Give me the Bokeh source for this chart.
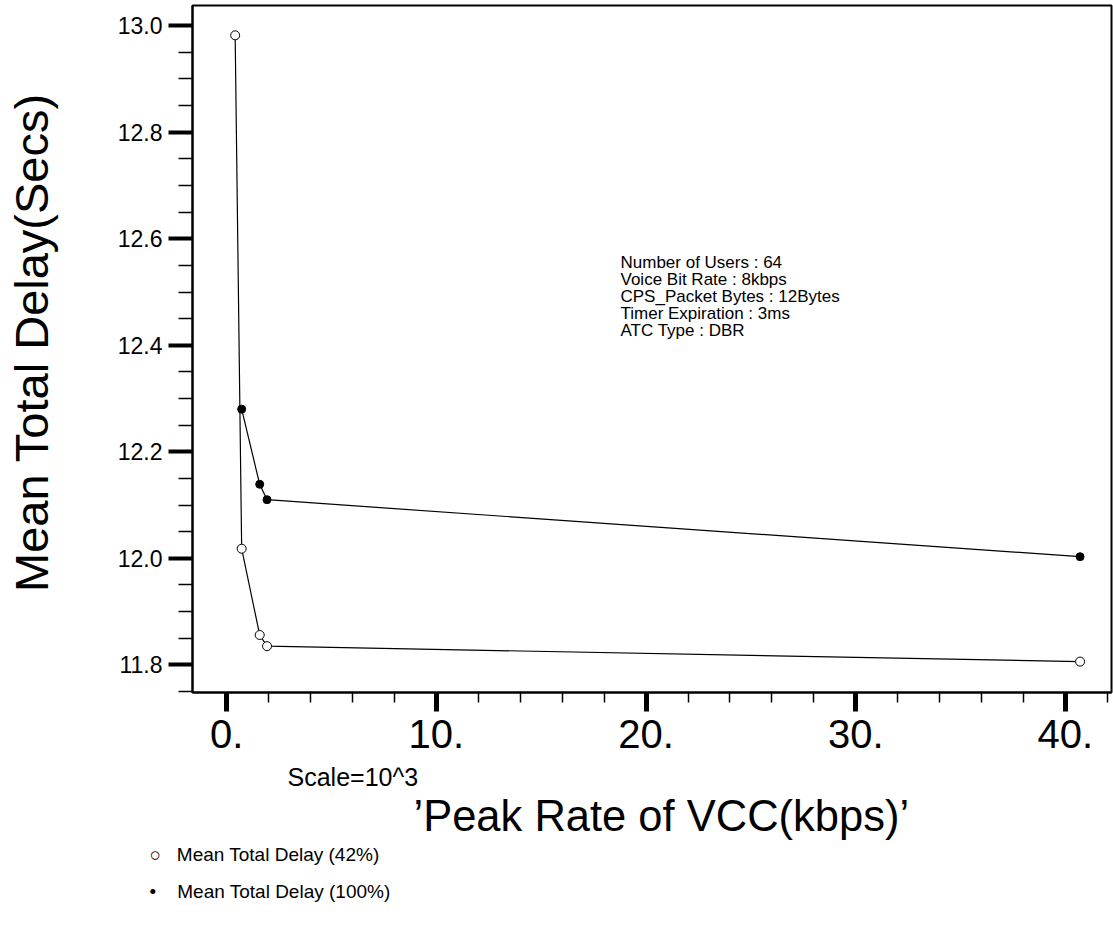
from bokeh.plotting import figure
from bokeh.models import Range1d, FixedTicker, Title
from bokeh.embed import file_html
from bokeh.resources import INLINE

# ---- data ----
rate_42 = [0.40, 0.71, 1.57, 1.92, 40.70]
delay_42 = [12.982, 12.018, 11.856, 11.835, 11.806]
rate_100 = [0.71, 1.57, 1.92, 40.70]
delay_100 = [12.280, 12.139, 12.110, 12.003]

x_ticks = [0, 10, 20, 30, 40]
x_tick_labels = ["0.", "10.", "20.", "30.", "40."]
y_ticks = [11.8, 12.0, 12.2, 12.4, 12.6, 12.8, 13.0]
y_tick_labels = ["11.8", "12.0", "12.2", "12.4", "12.6", "12.8", "13.0"]

info_lines = [
    "Number of Users : 64",
    "Voice Bit Rate : 8kbps",
    "CPS_Packet Bytes : 12Bytes",
    "Timer Expiration : 3ms",
    "ATC Type : DBR",
]
legend_labels = ["Mean Total Delay (42%)", "Mean Total Delay (100%)"]
legend_marks = ["\u25cb", "\u2022"]

FONT = "Liberation Sans"
NB = "\u00a0"

# ---- geometry (page pixels; the canvas starts at the page corner) ----
W, H = 1113, 930
FL, FR, FT, FB = 192.0, 1111.0, 5.0, 692.0
X0, X1 = -1.635, 42.2
Y0, Y1 = 11.748, 13.038

p = figure(width=W, height=H, output_backend="svg", toolbar_location=None,
           title=None,
           x_range=Range1d(X0, X1), y_range=Range1d(Y0, Y1),
           min_border_left=int(FL), min_border_right=int(W - FR),
           min_border_top=int(FT), min_border_bottom=int(H - FB))
p.grid.visible = False
p.outline_line_color = "black"
p.outline_line_width = 2
p.background_fill_color = "white"
p.border_fill_color = "white"

# x axis
xa = p.xaxis[0]
xa.ticker = FixedTicker(ticks=x_ticks, minor_ticks=[v for v in range(0, 43, 2)])
xa.major_label_overrides = {t: s for t, s in zip(x_ticks, x_tick_labels)}
xa.axis_line_width = 2
xa.major_tick_in = 0
xa.major_tick_out = 19
xa.major_tick_line_width = 5
xa.minor_tick_in = 0
xa.minor_tick_out = 10
xa.minor_tick_line_width = 1.5
xa.major_label_text_font = FONT
xa.major_label_text_font_size = "40px"
xa.major_label_text_color = "black"
xa.major_label_standoff = 8

# y axis
ya = p.yaxis[0]
ya.ticker = FixedTicker(ticks=y_ticks,
                        minor_ticks=[round(11.75 + 0.05 * i, 2) for i in range(26)])
ya.major_label_overrides = {t: s for t, s in zip(y_ticks, y_tick_labels)}
ya.axis_line_width = 2
ya.major_tick_in = 0
ya.major_tick_out = 24
ya.major_tick_line_width = 4
ya.minor_tick_in = 0
ya.minor_tick_out = 14
ya.minor_tick_line_width = 1.5
ya.major_label_text_font = FONT
ya.major_label_text_font_size = "23px"
ya.major_label_text_color = "black"
ya.major_label_standoff = 6
ya.axis_label = NB + "Mean Total Delay(Secs)"
ya.axis_label_text_font = FONT
ya.axis_label_text_font_size = "47px"
ya.axis_label_text_font_style = "normal"
ya.axis_label_text_color = "black"
ya.axis_label_standoff = 57

# series
p.line(rate_42, delay_42, line_color="black", line_width=1.2)
p.scatter(rate_42, delay_42, marker="circle", size=9, fill_color="white",
          line_color="black", line_width=1)
p.line(rate_100, delay_100, line_color="black", line_width=1.2)
p.scatter(rate_100, delay_100, marker="circle", size=8, fill_color="black",
          line_color="black")

# info text block (inside the frame)
info_x = [X0 + (620 - FL) / (FR - FL) * (X1 - X0)] * len(info_lines)
info_y = [Y1 - (262 + 17 * i - FT) / (FB - FT) * (Y1 - Y0) for i in range(len(info_lines))]
p.text(x=info_x, y=info_y, text=info_lines, text_align="left",
       text_baseline="middle", text_font={"value": FONT},
       text_font_size="17px", text_color="black")


def below_title(text, size, align, offset, standoff):
    t = Title(text=text, align=align, offset=offset, standoff=standoff,
              text_font=FONT, text_font_size=size, text_font_style="normal",
              text_color="black")
    p.add_layout(t, "below")


below_title("Scale=10^3", "25px", "left", 95, 21)
below_title("\u2019Peak Rate of VCC(kbps)\u2019", "43.5px", "left", 221, -24)
below_title(legend_marks[0] + NB * 3 + legend_labels[0], "19px", "left", -43, 29)
below_title(legend_marks[1] + NB * 4 + legend_labels[1], "19px", "left", -43, -1)

open("out.html", "w").write(file_html(p, INLINE))
